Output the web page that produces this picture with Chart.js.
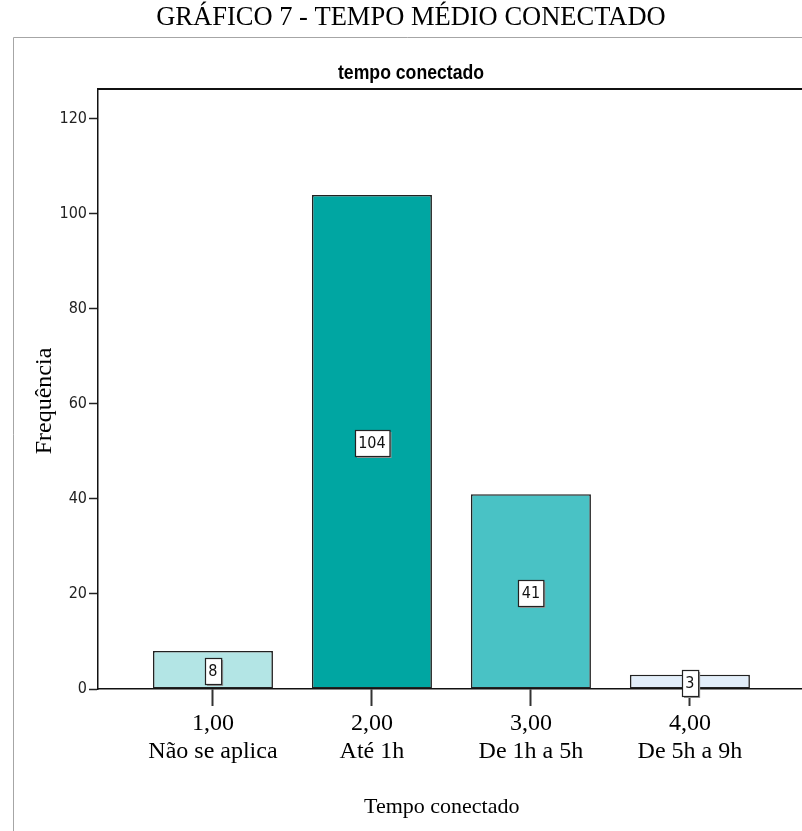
<!DOCTYPE html>
<html>
<head>
<meta charset="utf-8">
<title>Tempo médio conectado</title>
<script src="https://cdn.jsdelivr.net/npm/chart.js@4.4.1/dist/chart.umd.min.js"></script>
<style>
  html, body { margin: 0; padding: 0; background: #ffffff; }
  #wrap { position: relative; width: 802px; height: 831px; }
</style>
</head>
<body>
<div id="wrap"><canvas id="chart" width="802" height="831"></canvas></div>
<script>
// Category codes, their printed code labels and descriptions
const codes = [1, 2, 3, 4];
const codeLabels = ['1,00', '2,00', '3,00', '4,00'];
const categories = ['Não se aplica', 'Até 1h', 'De 1h a 5h', 'De 5h a 9h'];
// Frequency of each answer
const frequencies = [8, 104, 41, 3];
// Y axis tick values
const yTicks = [0, 20, 40, 60, 80, 100, 120];

const barColors = ['#b3e5e5', '#00a6a2', '#49c2c5', '#e2eefa'];
const SERIF = "'Liberation Serif', 'Times New Roman', serif";

// Use a narrow sans face when one is installed, otherwise squeeze a regular one
function hasFont(name) {
  const c = document.createElement('canvas').getContext('2d');
  const s = 'tempo conectado 0123456789';
  c.font = '20px monospace';
  const a = c.measureText(s).width;
  c.font = "20px '" + name + "', monospace";
  const b = c.measureText(s).width;
  c.font = '20px serif';
  const a2 = c.measureText(s).width;
  c.font = "20px '" + name + "', serif";
  const b2 = c.measureText(s).width;
  return a !== b || a2 !== b2;
}
const narrowAvailable = hasFont('Liberation Sans Narrow');
const NARROW = narrowAvailable
  ? "'Liberation Sans Narrow', sans-serif"
  : "'DejaVu Sans Condensed', 'Liberation Sans', sans-serif";

// Outer frame, top edge of the plot box and the inner chart heading
const framePlugin = {
  id: 'frame',
  beforeDraw(chart) {
    const ctx = chart.ctx;
    const a = chart.chartArea;
    ctx.save();
    ctx.strokeStyle = '#a6a6a6';
    ctx.lineWidth = 1;
    ctx.beginPath();
    ctx.moveTo(13.5, chart.height);
    ctx.lineTo(13.5, 37.5);
    ctx.lineTo(chart.width, 37.5);
    ctx.stroke();
    ctx.strokeStyle = '#111';
    ctx.lineWidth = 2;
    ctx.beginPath();
    ctx.moveTo(a.left, a.top);
    ctx.lineTo(a.right, a.top);
    ctx.stroke();

    // heading "tempo conectado"
    ctx.fillStyle = '#000';
    ctx.textAlign = 'center';
    ctx.textBaseline = 'middle';
    const cx = 411, cy = 73;
    if (narrowAvailable) {
      ctx.font = 'bold 21px ' + NARROW;
      ctx.fillText('tempo conectado', cx, cy);
    } else {
      ctx.font = "bold 21px 'Liberation Sans', Arial, sans-serif";
      ctx.translate(cx, cy);
      ctx.scale(0.84, 1);
      ctx.fillText('tempo conectado', 0, 0);
    }
    ctx.restore();
  }
};

// Boxed value labels in the middle of each bar
const valueLabels = {
  id: 'valueLabels',
  afterDatasetsDraw(chart) {
    const ctx = chart.ctx;
    const meta = chart.getDatasetMeta(0);
    ctx.save();
    ctx.font = '16px ' + NARROW;
    ctx.textAlign = 'center';
    ctx.textBaseline = 'middle';
    meta.data.forEach((bar, i) => {
      const text = String(frequencies[i]);
      const w = ctx.measureText(text).width + 7;
      const h = 26;
      const cx = bar.x;
      const cy = (bar.y + bar.base) / 2 + 1.5;
      const x0 = Math.round(cx - w / 2) + 0.5;
      const y0 = Math.round(cy - h / 2) + 0.5;
      ctx.fillStyle = '#9a9a9a';
      ctx.fillRect(x0 + 1.5, y0 + 1.5, w, h);
      ctx.fillStyle = '#ffffff';
      ctx.fillRect(x0, y0, w, h);
      ctx.strokeStyle = '#222';
      ctx.lineWidth = 1.2;
      ctx.strokeRect(x0, y0, w, h);
      ctx.fillStyle = '#111';
      ctx.fillText(text, cx, cy + 1);
    });
    ctx.restore();
  }
};

new Chart(document.getElementById('chart'), {
  type: 'bar',
  data: {
    datasets: [{
      data: codes.map((c, i) => ({ x: c, y: frequencies[i] })),
      backgroundColor: barColors,
      borderColor: '#222222',
      borderWidth: 1.6,
      borderSkipped: false,
      barPercentage: 0.755,
      categoryPercentage: 1
    }]
  },
  options: {
    responsive: false,
    animation: false,
    devicePixelRatio: 1,
    layout: { padding: { top: 0, right: 0, bottom: 0, left: 0 } },
    plugins: {
      legend: { display: false },
      tooltip: { enabled: false },
      title: {
        display: true,
        text: '   GRÁFICO 7 - TEMPO MÉDIO CONECTADO',
        color: '#000',
        font: { family: SERIF, size: 26.5, weight: 'normal' },
        padding: { top: 2.5, bottom: 54.7 }
      }
    },
    scales: {
      x: {
        type: 'linear',
        offset: false,
        min: 0.277,
        max: 4.705,
        afterBuildTicks: s => { s.ticks = codes.map(v => ({ value: v })); },
        afterFit: s => { s.height = 142; },
        ticks: {
          autoSkip: false,
          maxRotation: 0,
          padding: 3,
          color: '#000',
          font: { family: SERIF, size: 24 },
          callback: v => {
            const i = codes.indexOf(v);
            return i < 0 ? '' : [codeLabels[i], categories[i]];
          }
        },
        grid: { offset: false, drawOnChartArea: false, drawTicks: true, tickLength: 17, tickColor: '#333', tickWidth: 2 },
        border: { display: true, color: '#111', width: 1.5 },
        title: {
          display: true,
          text: 'Tempo conectado   ',
          color: '#000',
          font: { family: SERIF, size: 22 },
          padding: { top: 0, bottom: 11 }
        }
      },
      y: {
        min: 0,
        max: 126.3,
        afterBuildTicks: s => { s.ticks = yTicks.map(v => ({ value: v })); },
        afterFit: s => { s.width = 98; },
        ticks: {
          padding: 2,
          color: '#222',
          font: { family: NARROW, size: 16 },
          callback: v => String(v)
        },
        grid: { drawOnChartArea: false, drawTicks: true, tickLength: 9, tickColor: '#222', tickWidth: 1.5 },
        border: { display: true, color: '#111', width: 1.5 },
        title: {
          display: true,
          text: 'Frequência    ',
          color: '#000',
          font: { family: SERIF, size: 24 },
          padding: { top: 30, bottom: 0 }
        }
      }
    }
  },
  plugins: [framePlugin, valueLabels]
});
</script>
</body>
</html>
